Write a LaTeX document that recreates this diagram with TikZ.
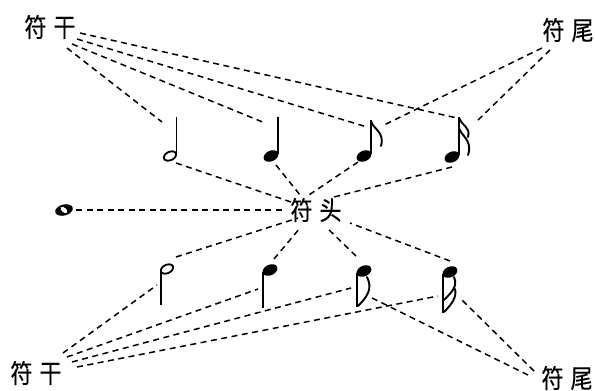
\documentclass[tikz,border=0pt]{standalone}
\usepackage{fontspec}
\newfontfamily\cjk[FakeBold=0.4]{Noto Sans CJK SC}
\newcommand{\twochars}[2]{\scalebox{0.85}[1]{#1}\hspace{7pt}\scalebox{0.85}[1]{#2}}
\begin{document}
\begin{tikzpicture}[x=1pt,y=-1pt,
  lbl/.style={inner sep=0pt,font=\cjk\fontsize{26}{26}\selectfont},
  conn/.style={dash pattern=on 6pt off 4.5pt,line width=1.5pt},
  stemline/.style={line width=1.9pt},
  flagline/.style={line width=1.9pt,line cap=round}]
\useasboundingbox (0,0) rectangle (595,391);
\fill[white] (0,0) rectangle (595,391);

% labels
\node[lbl] (ganT) at (50,27) {\twochars{符}{干}};
\node[lbl] (weiT) at (568,30) {\twochars{符}{尾}};
\node[lbl] (tou)  at (316,210) {\twochars{符}{头}};
\node[lbl] (ganB) at (36,373) {\twochars{符}{干}};
\node[lbl] (weiB) at (567,378) {\twochars{符}{尾}};

% ---- notes, top row (stem up)
% half
\draw[line width=1.8pt,rotate around={25:(170,156)}] (170,156) ellipse [x radius=6.5pt,y radius=4.2pt];
\draw[stemline] (176.5,155) -- (176.5,117);
% quarter
\fill[rotate around={25:(271,156)}] (271,156) ellipse [x radius=7.8pt,y radius=5.3pt];
\draw[stemline] (277.8,154) -- (277.8,117);
% eighth
\fill[rotate around={25:(364,156)}] (364,156) ellipse [x radius=7.8pt,y radius=5.3pt];
\draw[stemline] (370.8,154) -- (370.8,120);
\draw[flagline] (371,121) .. controls (373,129) and (385,132) .. (381,146);
% sixteenth
\fill[rotate around={25:(452,157)}] (452,157) ellipse [x radius=7.8pt,y radius=5.3pt];
\draw[stemline] (458.8,155) -- (458.8,117);
\draw[flagline] (459,118) .. controls (461,125) and (471,127) .. (468,137);
\draw[flagline] (459,128) .. controls (461,136) and (473,140) .. (468,155);

% whole note
\fill[rotate around={15:(64,210)}] (64,210) ellipse [x radius=9pt,y radius=5.5pt];
\fill[white,rotate around={-40:(64,210)}] (64,210) ellipse [x radius=4pt,y radius=2.3pt];

% ---- notes, bottom row (stem down)
% half
\draw[line width=1.8pt,rotate around={25:(167,269)}] (167,269) ellipse [x radius=6.5pt,y radius=4.2pt];
\draw[stemline] (160.7,271) -- (160.7,305);
% quarter
\fill[rotate around={25:(270,270)}] (270,270) ellipse [x radius=7.8pt,y radius=5.3pt];
\draw[stemline] (263.4,272) -- (263.4,308);
% eighth
\fill[rotate around={25:(364,271)}] (364,271) ellipse [x radius=7.8pt,y radius=5.3pt];
\draw[stemline] (357.4,273) -- (357.4,307);
\draw[flagline] (358,306) .. controls (367,297) and (373,289) .. (367,277);
% sixteenth
\fill[rotate around={25:(450,272)}] (450,272) ellipse [x radius=7.8pt,y radius=5.3pt];
\draw[stemline] (443.4,274) -- (443.4,313);
\draw[flagline] (444,312) .. controls (452,304) and (457,297) .. (455,289);
\draw[flagline] (444,300) .. controls (452,292) and (458,286) .. (454,277);

% ---- connector end points
\coordinate (gT1) at (67,48);  \coordinate (gT2) at (72,44);
\coordinate (gT3) at (77,39);  \coordinate (gT4) at (80,33);
\coordinate (wT1) at (542,48); \coordinate (wT2) at (550,50);
\coordinate (gB1) at (63,353); \coordinate (gB2) at (67,357);
\coordinate (gB3) at (72,362); \coordinate (gB4) at (77,367);
\coordinate (wB1) at (528,375); \coordinate (wB2) at (534,371);
\coordinate (t1) at (294,203); \coordinate (t2) at (300,195);
\coordinate (t3) at (306,197); \coordinate (t4) at (334,197);
\coordinate (t5) at (286,210);
\coordinate (t6) at (298,218); \coordinate (t7) at (300,228);
\coordinate (t8) at (326,227); \coordinate (t9) at (350,223);
% note attachment points
\coordinate (sT1) at (162,122); \coordinate (sT2) at (265,123);
\coordinate (sT3) at (367,127); \coordinate (sT4) at (457,118);
\coordinate (fT3) at (384,125); \coordinate (fT4) at (475,123);
\coordinate (hT1) at (176,163); \coordinate (hT2) at (276,165);
\coordinate (hT3) at (358,162); \coordinate (hT4) at (452,167);
\coordinate (hW) at (76,210);
\coordinate (hB1) at (176,257); \coordinate (hB2) at (274,259);
\coordinate (hB3) at (356,256); \coordinate (hB4) at (450,261);
\coordinate (sB1) at (157,285); \coordinate (sB2) at (258,289);
\coordinate (sB3) at (351,288); \coordinate (sB4) at (438,296);
\coordinate (fB3) at (370,297); \coordinate (fB4) at (462,300);

% ---- connectors
\draw[conn] (gT1) -- (sT1);
\draw[conn] (gT2) -- (sT2);
\draw[conn] (gT3) -- (sT3);
\draw[conn] (gT4) -- (sT4);
\draw[conn] (wT1) -- (fT3);
\draw[conn] (wT2) -- (fT4);
\draw[conn] (hT1) -- (t1);
\draw[conn] (hT2) -- (t2);
\draw[conn] (hT3) -- (t3);
\draw[conn] (hT4) -- (t4);
\draw[conn] (hW) -- (t5);
\draw[conn] (hB1) -- (t6);
\draw[conn] (hB2) -- (t7);
\draw[conn] (hB3) -- (t8);
\draw[conn] (hB4) -- (t9);
\draw[conn] (gB1) -- (sB1);
\draw[conn] (gB2) -- (sB2);
\draw[conn] (gB3) -- (sB3);
\draw[conn] (gB4) -- (sB4);
\draw[conn] (wB1) -- (fB3);
\draw[conn] (wB2) -- (fB4);
\end{tikzpicture}
\end{document}
